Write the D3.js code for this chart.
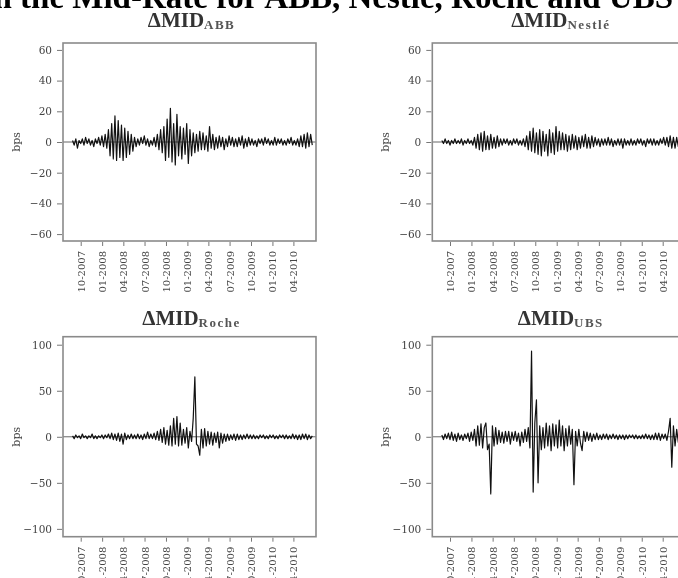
<!DOCTYPE html>
<html>
<head>
<meta charset="utf-8">
<script src="https://cdn.jsdelivr.net/npm/d3@7"></script>
<style>
  html, body { margin: 0; padding: 0; background: #fff; overflow: hidden; }
  svg { display: block; filter: blur(0.5px); }
  text { font-family: "Liberation Serif", "Times New Roman", serif; }
</style>
</head>
<body>
<svg id="chart" width="678" height="578"></svg>
<script>
// ---------------- DATA ----------------
const mainTitle = "Changes in the Mid-Rate for ABB, Nestlé, Roche and UBS";
const firstObs = "2007-08-27";   // weekly observations
const stepDays = 7;
const tickDates = ["2007-10-01","2008-01-01","2008-04-01","2008-07-01","2008-10-01","2009-01-01",
                   "2009-04-01","2009-07-01","2009-10-01","2010-01-01","2010-04-01"];
const tickLabels = ["10-2007","01-2008","04-2008","07-2008","10-2008","01-2009",
                    "04-2009","07-2009","10-2009","01-2010","04-2010"];
const yTicksTop = [60, 40, 20, 0, -20, -40, -60];
const yTicksBottom = [100, 50, 0, -50, -100];
const panelNames = ["ABB", "Nestlé", "Roche", "UBS"];
const yLabel = "bps";

const abb = [
  1,-2,2,-4,1,-1,2,-2,3,-1,
  2,-2,1,-3,2,-1,3,-2,4,-3,
  5,-4,8,-9,12,-11,17,-12,14,-10,
  11,-12,9,-10,7,-8,5,-6,3,-3,
  2,-2,3,-1,4,-2,2,-3,1,-2,
  3,-3,5,-5,8,-7,10,-12,15,-10,
  22,-13,12,-15,18,-9,10,-11,9,-8,
  12,-14,8,-9,6,-7,5,-6,7,-5,
  6,-5,4,-6,10,-4,5,-5,3,-4,
  4,-3,3,-5,2,-3,4,-2,3,-3,
  2,-3,3,-2,4,-4,2,-3,3,-2,
  2,-2,1,-3,2,-1,2,-2,3,-1,
  2,-2,1,-2,3,-2,2,-1,2,-2,
  1,-2,2,-1,3,-2,1,-2,2,-3,
  4,-3,5,-4,6,-3,5,-2];
const nestle = [
  1,-1,2,-1,1,-2,1,-1,2,-1,
  1,-1,2,-2,1,-1,2,-1,1,-2,
  3,-4,5,-5,6,-6,7,-5,4,-5,
  5,-4,3,-4,4,-3,2,-2,2,-1,
  2,-2,1,-2,2,-1,2,-2,1,-2,
  2,-3,4,-5,7,-6,9,-7,6,-8,
  8,-9,7,-6,5,-9,8,-7,6,-8,
  10,-6,7,-5,6,-5,5,-6,4,-5,
  5,-4,4,-5,3,-4,4,-3,5,-4,
  3,-4,4,-3,3,-2,2,-3,2,-2,
  2,-2,3,-2,2,-3,1,-2,2,-2,
  2,-4,2,-2,1,-2,2,-2,1,-2,
  2,-1,2,-2,1,-3,2,-1,2,-2,
  2,-2,1,-2,2,-1,3,-2,3,-3,
  4,-4,3,-4,3,-3,2,-2];
const roche = [
  1,-2,2,-1,1,-2,3,-1,1,-2,
  1,-1,3,-2,1,-2,1,-1,2,-2,
  2,-1,3,-2,4,-3,3,-4,4,-5,
  3,-8,4,-3,2,-2,3,-2,2,-2,
  3,-2,2,-3,3,-2,5,-2,3,-2,
  4,-3,6,-4,8,-6,10,-8,7,-9,
  12,-10,20,-8,22,-10,15,-9,8,-7,
  10,-12,6,-5,20,65,-8,-10,-20,8,
  -12,9,-10,6,-8,5,-9,4,-6,5,
  -12,4,-7,3,-5,3,-4,2,-3,3,
  -4,3,-3,2,-3,2,-2,3,-2,2,
  -2,2,-2,1,-2,2,-1,2,-2,1,
  -2,2,-1,2,-2,1,-2,2,-1,2,
  -2,2,-2,1,-2,3,-2,2,-3,2,
  -3,3,-2,3,-3,2,-2,1];
const ubs = [
  2,-3,3,-2,4,-3,5,-4,3,-5,
  4,-3,2,-4,3,-2,4,-5,5,-4,
  8,-10,12,-9,14,-12,10,15,-14,-8,
  -62,12,-10,10,-8,7,-6,5,-7,6,
  -5,6,-8,5,-4,6,-5,4,-10,5,
  -6,8,-5,10,-12,93,-60,15,40,-50,
  12,-14,10,-12,15,-10,12,-15,14,-10,
  13,-12,18,-10,12,-15,9,-10,12,-8,
  8,-52,6,-10,8,-7,-15,6,-5,5,
  -4,4,-5,3,-3,4,-3,2,-3,3,
  -2,3,-3,2,-2,3,-2,2,-3,2,
  -2,2,-3,2,-2,2,-1,2,-2,2,
  -2,1,-2,2,-2,3,-2,2,-3,2,
  -3,4,-3,4,-4,3,-2,3,-4,6,
  20,-33,12,-10,8,-6,5,-4];
const seriesList = [abb, nestle, roche, ubs];

// ---------------- LAYOUT ----------------
const svg = d3.select("#chart");
const parse = d3.timeParse("%Y-%m-%d");
const start = parse(firstObs);

const boxW = 253;
const panels = [
  {x0: 63,    y0: 43,    h: 198, dom: [-64.5, 64.5],  ticks: yTicksTop,    titleY: 27},
  {x0: 432.3, y0: 43,    h: 198, dom: [-64.5, 64.5],  ticks: yTicksTop,    titleY: 27},
  {x0: 63,    y0: 336.7, h: 200, dom: [-108.5, 108.7], ticks: yTicksBottom, titleY: 325},
  {x0: 432.3, y0: 336.7, h: 200, dom: [-108.5, 108.7], ticks: yTicksBottom, titleY: 325}
];
const xDomain = [parse("2007-07-17"), parse("2010-07-07")];
const tickFont = '"DejaVu Serif", serif';

// main title (cut off at top of the picture)
svg.append("text")
  .attr("x", 673).attr("y", 8)
  .attr("text-anchor", "end")
  .attr("font-size", 33).attr("font-weight", "bold")
  .attr("fill", "#000")
  .text(mainTitle);

panels.forEach((p, k) => {
  const values = seriesList[k];
  const data = values.map((v, i) => ({d: d3.timeDay.offset(start, i * stepDays), v}));
  const x = d3.scaleTime().domain(xDomain).range([p.x0, p.x0 + boxW]);
  const y = d3.scaleLinear().domain(p.dom).range([p.y0 + p.h, p.y0]);
  const g = svg.append("g");

  // panel title
  const t = g.append("text")
    .attr("x", p.x0 + boxW / 2 + 2).attr("y", p.titleY)
    .attr("text-anchor", "middle")
    .attr("fill", "#333")
    .attr("font-weight", "bold");
  t.append("tspan").attr("font-size", 21).text("ΔMID");
  t.append("tspan").attr("font-size", 13).attr("dy", 2)
    .attr("letter-spacing", 1.5).attr("fill", "#555").text(panelNames[k]);

  // zero line
  g.append("line")
    .attr("x1", p.x0).attr("x2", p.x0 + boxW)
    .attr("y1", y(0)).attr("y2", y(0))
    .attr("stroke", "#666").attr("stroke-width", 1);

  // series
  g.append("path")
    .datum(data)
    .attr("fill", "none")
    .attr("stroke", "#111")
    .attr("stroke-width", 1.2)
    .attr("stroke-linejoin", "round")
    .attr("d", d3.line().x(d => x(d.d)).y(d => y(d.v)));

  // box
  g.append("rect")
    .attr("x", p.x0).attr("y", p.y0)
    .attr("width", boxW).attr("height", p.h)
    .attr("fill", "none").attr("stroke", "#8a8a8a").attr("stroke-width", 1.6);

  // y axis
  const ya = g.append("g")
    .attr("transform", `translate(${p.x0 - 1},0)`)
    .call(d3.axisLeft(y).tickValues(p.ticks).tickSize(5).tickPadding(5));
  ya.select(".domain").remove();
  ya.selectAll("line").attr("stroke", "#777");
  ya.selectAll("text").attr("font-size", 10.5).attr("fill", "#444")
    .style("font-family", tickFont);

  // x axis
  const xa = g.append("g")
    .attr("transform", `translate(0,${p.y0 + p.h + 1})`)
    .call(d3.axisBottom(x)
      .tickValues(tickDates.map(parse))
      .tickFormat((d, i) => tickLabels[i])
      .tickSize(4));
  xa.select(".domain").remove();
  xa.selectAll("line").attr("stroke", "#777");
  xa.selectAll("text")
    .attr("transform", "rotate(-90)")
    .attr("text-anchor", "end")
    .attr("x", -9).attr("y", 0).attr("dy", "0.35em")
    .attr("font-size", 10).attr("fill", "#444")
    .style("font-family", tickFont);

  // y label
  g.append("text")
    .attr("transform", `translate(${p.x0 - 43},${y(0)}) rotate(-90)`)
    .attr("text-anchor", "middle")
    .attr("font-size", 11).attr("fill", "#444")
    .style("font-family", tickFont)
    .text(yLabel);
});
</script>
</body>
</html>
